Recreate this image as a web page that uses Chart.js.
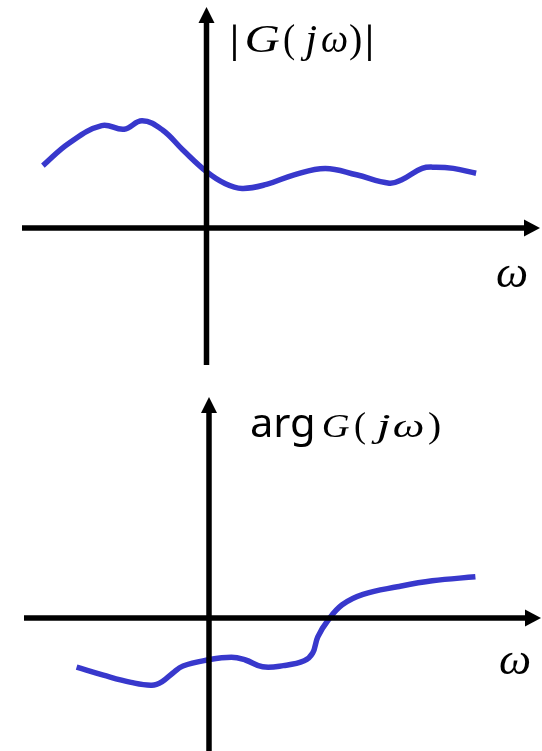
<!DOCTYPE html>
<html>
<head>
<meta charset="utf-8">
<script src="https://cdn.jsdelivr.net/npm/chart.js@4"></script>
<style>
  html, body { margin: 0; padding: 0; background: #fff; }
  canvas { display: block; }
</style>
</head>
<body>
<canvas id="magChart" width="542" height="375"></canvas>
<canvas id="phaseChart" width="542" height="376"></canvas>
<script>
// |G(jw)| curve (arbitrary units, origin at the axes crossing)
const magOmega = [-4.09, -3.44, -2.62, -2.06, -1.61, -1.10, -0.59, 0.00, 0.45, 0.89,
                  1.50, 2.19, 2.97, 3.75, 4.57, 4.87, 5.39, 5.74, 6.17, 6.74];
const magValue = [1.56, 2.12, 2.56, 2.47, 2.68, 2.45, 1.95, 1.41, 1.12, 0.99,
                  1.09, 1.33, 1.49, 1.33, 1.12, 1.20, 1.49, 1.52, 1.49, 1.37];

// arg G(jw) curve
const phaseOmega = [-3.31, -2.64, -1.95, -1.43, -1.17, -0.91, -0.65, -0.04, 0.56, 0.91, 1.34,
                    1.86, 2.38, 2.59, 2.72, 2.98, 3.33, 3.85, 4.71, 5.58, 6.66];
const phaseValue = [-1.23, -1.43, -1.61, -1.68, -1.59, -1.38, -1.20, -1.05, -0.98, -1.05, -1.22,
                    -1.19, -1.07, -0.88, -0.47, -0.05, 0.33, 0.59, 0.78, 0.93, 1.03];

const curveColor = '#3838cc';
const serif = '"Liberation Serif", "DejaVu Serif", serif';
const sans = '"Noto Sans", "Open Sans", sans-serif';

// pieces of the axis titles: [text, font, ink left, ink right]
const magTitle = [
  ['|', '41px ' + serif, 233, 237], ['G', 'italic 40px ' + serif, 247, 280],
  ['(', '40px ' + serif, 284, 295], ['j', 'italic 40px ' + serif, 300, 317],
  ['ω', 'italic 40px ' + serif, 322, 347], [')', '40px ' + serif, 350, 361],
  ['|', '41px ' + serif, 368, 372]
];
const phaseTitle = [
  ['arg', '40px ' + sans, 251, 313], ['G', 'italic 34px ' + serif, 323, 349],
  ['(', '36px ' + serif, 355, 365], ['j', 'italic 34px ' + serif, 371, 390],
  ['ω', 'italic 34px ' + serif, 394, 423], [')', '36px ' + serif, 429, 440]
];

function toPoints(xs, ys) {
  return xs.map((x, i) => ({ x: x, y: ys[i] }));
}

// text stretched so its ink covers [left, right]
function fitText(ctx, text, font, left, right, base) {
  ctx.font = font;
  const m = ctx.measureText(text);
  const ink = m.actualBoundingBoxLeft + m.actualBoundingBoxRight;
  const sx = ink > 0 ? (right - left) / ink : 1;
  ctx.save();
  ctx.translate(left, base);
  ctx.scale(sx, 1);
  ctx.fillText(text, m.actualBoundingBoxLeft, 0);
  ctx.restore();
}

// draws the arrowed axes and the labels
function axesPlugin(o) {
  return {
    id: 'axes',
    afterDatasetsDraw(chart) {
      const ctx = chart.ctx;
      const x0 = chart.scales.x.getPixelForValue(0);
      const y0 = chart.scales.y.getPixelForValue(0);
      ctx.save();
      ctx.strokeStyle = '#000';
      ctx.fillStyle = '#000';
      ctx.lineWidth = 5.5;
      ctx.lineCap = 'butt';

      // horizontal axis
      ctx.beginPath();
      ctx.moveTo(o.xStart, y0);
      ctx.lineTo(o.xTip - 10, y0);
      ctx.stroke();
      ctx.beginPath();
      ctx.moveTo(o.xTip, y0);
      ctx.lineTo(o.xTip - 16, y0 - 8.5);
      ctx.lineTo(o.xTip - 16, y0 + 8.5);
      ctx.closePath();
      ctx.fill();

      // vertical axis
      ctx.beginPath();
      ctx.moveTo(x0, o.yEnd);
      ctx.lineTo(x0, o.yTip + 10);
      ctx.stroke();
      ctx.beginPath();
      ctx.moveTo(x0, o.yTip);
      ctx.lineTo(x0 - 8, o.yTip + 16);
      ctx.lineTo(x0 + 8, o.yTip + 16);
      ctx.closePath();
      ctx.fill();

      // titles
      ctx.textBaseline = 'alphabetic';
      ctx.textAlign = 'left';
      o.title.forEach(p => fitText(ctx, p[0], p[1], p[2], p[3], o.titleBase));
      fitText(ctx, 'ω', 'italic 44px ' + serif, o.omegaX, o.omegaX + 30, o.omegaBase);
      ctx.restore();
    }
  };
}

function makeChart(id, xs, ys, xMin, xMax, yMin, yMax, opts) {
  return new Chart(document.getElementById(id), {
    type: 'line',
    data: {
      datasets: [{
        data: toPoints(xs, ys),
        borderColor: curveColor,
        borderWidth: 5.5,
        tension: 0.4,
        pointRadius: 0,
        fill: false
      }]
    },
    options: {
      responsive: false,
      animation: false,
      devicePixelRatio: 1,
      layout: { padding: 0 },
      plugins: { legend: { display: false }, tooltip: { enabled: false } },
      scales: {
        x: { type: 'linear', min: xMin, max: xMax, display: false },
        y: { type: 'linear', min: yMin, max: yMax, display: false }
      }
    },
    plugins: [axesPlugin(opts)]
  });
}

// 40 px per unit on both axes
makeChart('magChart', magOmega, magValue, -206.5 / 40, 335.5 / 40, -147 / 40, 228 / 40, {
  xStart: 22, xTip: 540, yTip: 7, yEnd: 365,
  title: magTitle, titleBase: 52, omegaX: 497, omegaBase: 287
});
makeChart('phaseChart', phaseOmega, phaseValue, -209 / 40, 333 / 40, -133 / 40, 243 / 40, {
  xStart: 24, xTip: 541, yTip: 22, yEnd: 376,
  title: phaseTitle, titleBase: 61.7, omegaX: 500, omegaBase: 299
});
</script>
</body>
</html>
